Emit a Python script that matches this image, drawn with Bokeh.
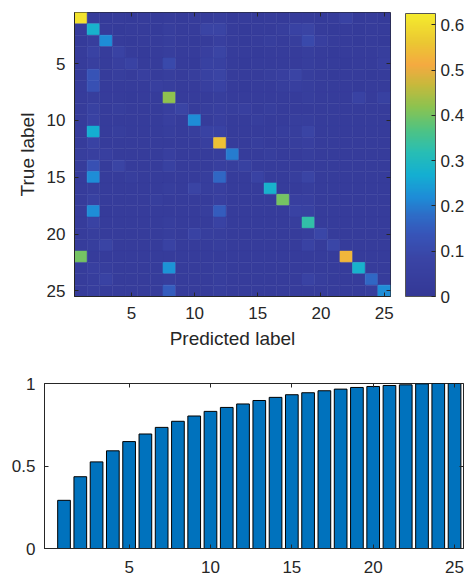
import numpy as np
from bokeh.plotting import figure
from bokeh.models import (ColumnDataSource, LinearColorMapper, ColorBar, FixedTicker,
                          Range1d, LinearAxis, NumeralTickFormatter)
from bokeh.layouts import column
from bokeh.embed import file_html
from bokeh.resources import INLINE

# ---------------- data ----------------
classes = list(range(1, 26))
tick_vals = [5, 10, 15, 20, 25]
cbar_ticks = [0, 0.1, 0.2, 0.3, 0.4, 0.5, 0.6]
bar_yticks = [0, 0.5, 1]

row01 = [0.61, 0.03, 0.02, 0.03, 0.02, 0.03, 0.02, 0.03, 0.02, 0.03, 0.03, 0.04, 0.02, 0.03, 0.02, 0.03, 0.02, 0.03, 0.03, 0.02, 0.03, 0.07, 0.02, 0.03, 0.02]
row02 = [0.03, 0.28, 0.03, 0.02, 0.03, 0.03, 0.02, 0.04, 0.03, 0.03, 0.08, 0.08, 0.03, 0.02, 0.03, 0.03, 0.04, 0.07, 0.08, 0.03, 0.02, 0.03, 0.02, 0.03, 0.03]
row03 = [0.02, 0.04, 0.22, 0.03, 0.02, 0.03, 0.03, 0.04, 0.03, 0.02, 0.03, 0.05, 0.03, 0.02, 0.03, 0.04, 0.03, 0.04, 0.10, 0.05, 0.03, 0.03, 0.02, 0.03, 0.02]
row04 = [0.03, 0.07, 0.03, 0.07, 0.03, 0.02, 0.03, 0.04, 0.03, 0.03, 0.05, 0.08, 0.03, 0.03, 0.02, 0.03, 0.03, 0.03, 0.04, 0.03, 0.02, 0.03, 0.03, 0.03, 0.04]
row05 = [0.03, 0.05, 0.03, 0.05, 0.07, 0.03, 0.03, 0.10, 0.03, 0.02, 0.06, 0.06, 0.03, 0.02, 0.03, 0.03, 0.03, 0.03, 0.04, 0.03, 0.03, 0.02, 0.03, 0.03, 0.05]
row06 = [0.02, 0.13, 0.03, 0.04, 0.03, 0.05, 0.03, 0.04, 0.03, 0.04, 0.06, 0.08, 0.03, 0.03, 0.03, 0.04, 0.05, 0.08, 0.04, 0.03, 0.02, 0.03, 0.03, 0.02, 0.03]
row07 = [0.03, 0.12, 0.03, 0.03, 0.03, 0.03, 0.05, 0.04, 0.03, 0.03, 0.05, 0.07, 0.03, 0.02, 0.03, 0.03, 0.04, 0.05, 0.04, 0.03, 0.03, 0.03, 0.02, 0.03, 0.03]
row08 = [0.03, 0.04, 0.03, 0.03, 0.02, 0.03, 0.03, 0.42, 0.03, 0.03, 0.03, 0.04, 0.03, 0.03, 0.03, 0.03, 0.03, 0.03, 0.04, 0.03, 0.03, 0.03, 0.07, 0.03, 0.06]
row09 = [0.03, 0.06, 0.03, 0.04, 0.03, 0.03, 0.03, 0.05, 0.08, 0.03, 0.04, 0.05, 0.04, 0.05, 0.03, 0.04, 0.03, 0.03, 0.03, 0.03, 0.03, 0.03, 0.03, 0.03, 0.03]
row10 = [0.03, 0.07, 0.03, 0.03, 0.03, 0.03, 0.03, 0.05, 0.03, 0.22, 0.03, 0.05, 0.03, 0.03, 0.04, 0.03, 0.03, 0.04, 0.04, 0.03, 0.03, 0.03, 0.03, 0.03, 0.03]
row11 = [0.03, 0.27, 0.03, 0.04, 0.03, 0.03, 0.03, 0.04, 0.03, 0.04, 0.07, 0.07, 0.03, 0.03, 0.03, 0.03, 0.04, 0.04, 0.08, 0.03, 0.03, 0.03, 0.03, 0.03, 0.03]
row12 = [0.03, 0.07, 0.03, 0.03, 0.03, 0.03, 0.03, 0.03, 0.03, 0.03, 0.05, 0.55, 0.03, 0.03, 0.04, 0.03, 0.03, 0.04, 0.05, 0.03, 0.03, 0.03, 0.03, 0.03, 0.03]
row13 = [0.04, 0.05, 0.05, 0.03, 0.03, 0.03, 0.03, 0.05, 0.03, 0.03, 0.03, 0.04, 0.20, 0.03, 0.03, 0.04, 0.03, 0.03, 0.04, 0.03, 0.03, 0.03, 0.03, 0.03, 0.03]
row14 = [0.03, 0.12, 0.03, 0.08, 0.03, 0.03, 0.03, 0.06, 0.03, 0.03, 0.03, 0.05, 0.04, 0.06, 0.03, 0.03, 0.03, 0.03, 0.03, 0.03, 0.03, 0.03, 0.03, 0.03, 0.03]
row15 = [0.03, 0.22, 0.03, 0.03, 0.04, 0.03, 0.03, 0.03, 0.03, 0.03, 0.04, 0.17, 0.03, 0.03, 0.07, 0.03, 0.03, 0.04, 0.08, 0.03, 0.03, 0.03, 0.03, 0.03, 0.03]
row16 = [0.03, 0.04, 0.03, 0.03, 0.03, 0.03, 0.03, 0.04, 0.03, 0.08, 0.04, 0.05, 0.03, 0.03, 0.03, 0.28, 0.03, 0.03, 0.04, 0.03, 0.03, 0.03, 0.03, 0.03, 0.03]
row17 = [0.03, 0.06, 0.03, 0.03, 0.03, 0.03, 0.04, 0.03, 0.03, 0.03, 0.03, 0.05, 0.03, 0.03, 0.03, 0.03, 0.40, 0.05, 0.05, 0.03, 0.03, 0.03, 0.03, 0.03, 0.03]
row18 = [0.03, 0.22, 0.02, 0.03, 0.03, 0.03, 0.03, 0.03, 0.03, 0.03, 0.04, 0.15, 0.03, 0.03, 0.03, 0.03, 0.03, 0.07, 0.06, 0.03, 0.03, 0.03, 0.03, 0.03, 0.03]
row19 = [0.03, 0.07, 0.03, 0.03, 0.03, 0.03, 0.03, 0.04, 0.03, 0.03, 0.03, 0.07, 0.03, 0.03, 0.03, 0.03, 0.03, 0.04, 0.33, 0.03, 0.03, 0.03, 0.03, 0.03, 0.03]
row20 = [0.03, 0.04, 0.03, 0.03, 0.03, 0.03, 0.03, 0.04, 0.03, 0.07, 0.04, 0.04, 0.03, 0.03, 0.03, 0.03, 0.03, 0.03, 0.04, 0.09, 0.03, 0.03, 0.03, 0.03, 0.03]
row21 = [0.03, 0.04, 0.08, 0.03, 0.03, 0.03, 0.03, 0.07, 0.03, 0.03, 0.03, 0.04, 0.03, 0.03, 0.03, 0.03, 0.03, 0.03, 0.07, 0.03, 0.09, 0.03, 0.03, 0.03, 0.03]
row22 = [0.40, 0.03, 0.03, 0.03, 0.03, 0.03, 0.03, 0.03, 0.03, 0.03, 0.03, 0.03, 0.03, 0.03, 0.03, 0.03, 0.03, 0.03, 0.03, 0.03, 0.03, 0.53, 0.03, 0.03, 0.03]
row23 = [0.03, 0.05, 0.04, 0.03, 0.03, 0.03, 0.03, 0.23, 0.03, 0.03, 0.03, 0.04, 0.03, 0.03, 0.03, 0.03, 0.03, 0.03, 0.03, 0.03, 0.03, 0.03, 0.28, 0.03, 0.03]
row24 = [0.03, 0.04, 0.07, 0.03, 0.03, 0.03, 0.03, 0.04, 0.03, 0.03, 0.03, 0.04, 0.03, 0.03, 0.03, 0.03, 0.03, 0.03, 0.07, 0.04, 0.03, 0.03, 0.03, 0.17, 0.03]
row25 = [0.03, 0.04, 0.03, 0.03, 0.03, 0.03, 0.03, 0.15, 0.03, 0.03, 0.03, 0.04, 0.03, 0.03, 0.03, 0.03, 0.03, 0.03, 0.03, 0.03, 0.03, 0.03, 0.03, 0.04, 0.22]
confusion = [row01, row02, row03, row04, row05, row06, row07, row08, row09, row10,
             row11, row12, row13, row14, row15, row16, row17, row18, row19, row20,
             row21, row22, row23, row24, row25]

cum_acc = [0.292, 0.435, 0.525, 0.592, 0.648, 0.694, 0.734, 0.771, 0.803, 0.831,
           0.855, 0.876, 0.897, 0.916, 0.932, 0.944, 0.956, 0.966, 0.976, 0.982,
           0.988, 0.992, 0.998, 1.0, 1.0]

# ---------------- style ----------------
FONT = "Liberation Sans"
TXT = "#262626"
TICK_FS = "17px"
LABEL_FS = "19px"

# palette anchors (fraction of colour range, rgb) tuned to the reference colour bar
pal_pos = [0.0, 0.13, 0.22, 0.29, 0.35, 0.43, 0.51, 0.59, 0.67, 0.75, 0.82, 0.90, 1.0]
pal_rgb = [(52, 56, 150), (58, 68, 165), (55, 85, 185), (45, 110, 200), (30, 140, 215),
           (20, 175, 210), (40, 190, 180), (80, 195, 130), (140, 195, 80), (200, 185, 60),
           (245, 170, 65), (235, 200, 50), (245, 235, 45)]
anc = np.array(pal_rgb, dtype=float)
tt = np.linspace(0, 1, 256)
palette = []
for t in tt:
    rgb = [np.interp(t, pal_pos, anc[:, k]) for k in range(3)]
    palette.append("#%02x%02x%02x" % tuple(int(round(c)) for c in rgb))

def style_axis(ax, fs=TICK_FS):
    ax.major_tick_in = 4
    ax.major_tick_out = 0
    ax.minor_tick_line_color = None
    ax.axis_line_color = TXT
    ax.major_tick_line_color = TXT
    ax.major_label_text_font = FONT
    ax.major_label_text_font_size = fs
    ax.major_label_text_color = TXT
    ax.axis_label_text_font = FONT
    ax.axis_label_text_font_size = LABEL_FS
    ax.axis_label_text_color = TXT
    ax.axis_label_text_font_style = "normal"

def ghost_axis(ax, standoff=0):
    style_axis(ax, "0px")
    ax.axis_line_color = None
    ax.major_label_standoff = standoff
    ax.major_label_text_color = None

# ---------------- confusion matrix ----------------
mapper = LinearColorMapper(palette=palette, low=0, high=0.625)
xs, ys, vs = [], [], []
for r, row in enumerate(confusion):
    for c, v in enumerate(row):
        xs.append(classes[c])
        ys.append(classes[r])
        vs.append(v)
src = ColumnDataSource(dict(x=xs, y=ys, v=vs))

p1 = figure(width=474, height=358, x_range=Range1d(0.5, 25.5), y_range=Range1d(25.5, 0.5),
            output_backend="svg", toolbar_location=None,
            min_border_left=74, min_border_right=84, min_border_top=12, min_border_bottom=62)
p1.frame_align = False
p1.rect("x", "y", 1, 1, source=src,
        fill_color={"field": "v", "transform": mapper},
        line_color={"field": "v", "transform": mapper}, line_width=0.5)
p1.grid.visible = False
p1.outline_line_color = TXT
p1.xaxis.ticker = FixedTicker(ticks=tick_vals)
p1.yaxis.ticker = FixedTicker(ticks=tick_vals)
style_axis(p1.xaxis[0])
style_axis(p1.yaxis[0])
p1.xaxis.axis_label = "Predicted label"
p1.yaxis.axis_label = "True label"
p1.xaxis.major_label_standoff = 10
p1.yaxis.major_label_standoff = 9
p1.xaxis.axis_label_standoff = 6
p1.yaxis.axis_label_standoff = 6
top1 = LinearAxis(ticker=FixedTicker(ticks=tick_vals))
ghost_axis(top1)
p1.add_layout(top1, "above")
right1 = LinearAxis(ticker=FixedTicker(ticks=tick_vals))
ghost_axis(right1)
p1.add_layout(right1, "right")

cb = ColorBar(color_mapper=mapper, ticker=FixedTicker(ticks=cbar_ticks),
              formatter=NumeralTickFormatter(format="0.[0]"),
              width=30, height=283, padding=0, margin=0, location=(15, 0),
              major_tick_in=4, major_tick_out=0, major_tick_line_color=TXT,
              minor_tick_line_color=None,
              bar_line_color="#555555", border_line_color=None,
              background_fill_color=None, label_standoff=5,
              major_label_text_font=FONT, major_label_text_font_size=TICK_FS,
              major_label_text_color=TXT)
p1.add_layout(cb, "right")

# ---------------- cumulative bar chart ----------------
p2 = figure(width=474, height=221, x_range=Range1d(-0.2, 25.55), y_range=Range1d(0, 1),
            output_backend="svg", toolbar_location=None,
            min_border_left=44, min_border_right=11, min_border_top=25, min_border_bottom=31)
p2.frame_align = False
p2.vbar(x=classes, top=cum_acc, width=0.78, fill_color="#0072BD",
        line_color="#000000", line_width=1)
p2.grid.visible = False
p2.outline_line_color = TXT
p2.xaxis.ticker = FixedTicker(ticks=tick_vals)
p2.yaxis.ticker = FixedTicker(ticks=bar_yticks)
p2.yaxis.formatter = NumeralTickFormatter(format="0.[0]")
style_axis(p2.xaxis[0])
style_axis(p2.yaxis[0])
p2.xaxis.major_label_standoff = 12
p2.yaxis.major_label_standoff = 9
top2 = LinearAxis(ticker=FixedTicker(ticks=tick_vals))
ghost_axis(top2)
p2.add_layout(top2, "above")
right2 = LinearAxis(ticker=FixedTicker(ticks=bar_yticks))
ghost_axis(right2)
p2.add_layout(right2, "right")

layout = column(p1, p2, spacing=0)
open("out.html", "w").write(file_html(layout, INLINE))
